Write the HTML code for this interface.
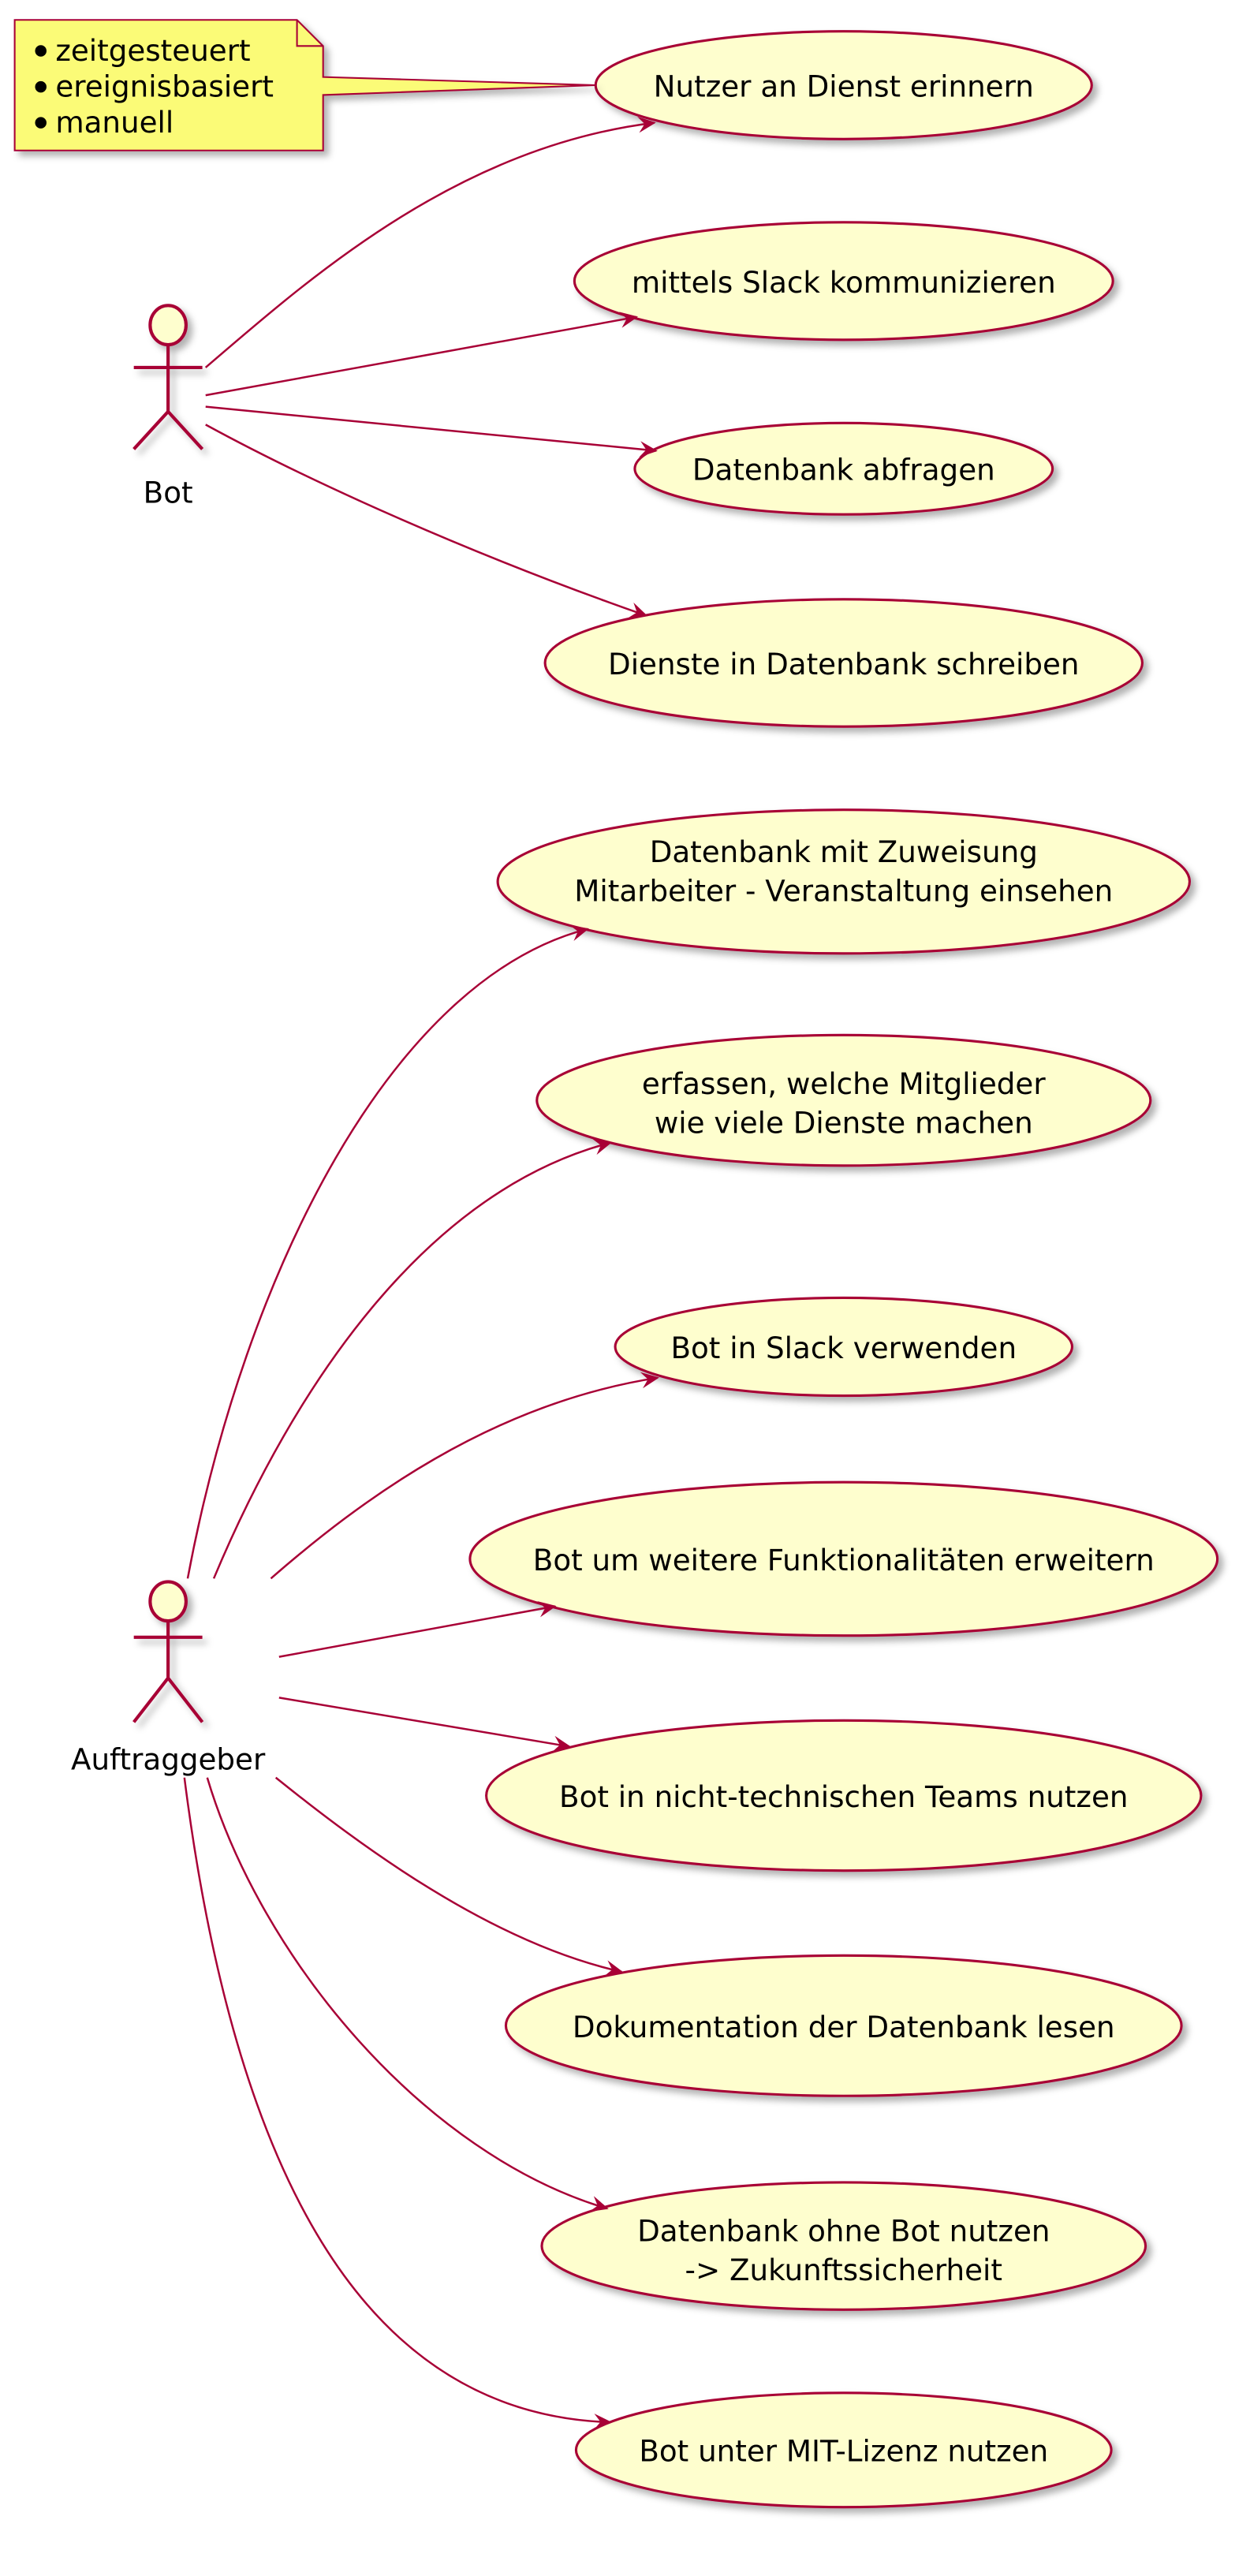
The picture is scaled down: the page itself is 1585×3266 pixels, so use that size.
<!DOCTYPE html>
<html><head><meta charset="utf-8"><style>
html,body{margin:0;padding:0;background:#fff;}
svg{display:block;}
text{font-family:"DejaVu Sans","Liberation Sans",sans-serif;font-size:18px;fill:#000;}
</style></head><body>
<svg width="1585" height="3266" viewBox="0 0 766 1578" xmlns="http://www.w3.org/2000/svg">
<defs>
<filter id="sh" x="-10%" y="-10%" width="130%" height="140%"><feDropShadow dx="3" dy="3" stdDeviation="2" flood-color="#000" flood-opacity="0.3"/></filter>
<marker id="ar" markerWidth="12" markerHeight="10" refX="10" refY="5" orient="auto" markerUnits="userSpaceOnUse"><path d="M0,0 L11,5 L0,10 L4,5 z" fill="#A80036"/></marker>
</defs>
<g fill="#FEFECE" stroke="#A80036" stroke-width="1.5" filter="url(#sh)">
<ellipse cx="517" cy="52" rx="152" ry="33"/>
<ellipse cx="517" cy="172" rx="165" ry="36"/>
<ellipse cx="517" cy="287" rx="128" ry="28"/>
<ellipse cx="517" cy="406" rx="183" ry="39"/>
<ellipse cx="517" cy="540" rx="212" ry="44"/>
<ellipse cx="517" cy="674" rx="188" ry="40"/>
<ellipse cx="517" cy="825" rx="140" ry="30"/>
<ellipse cx="517" cy="955" rx="229" ry="47"/>
<ellipse cx="517" cy="1100" rx="219" ry="46"/>
<ellipse cx="517" cy="1241" rx="207" ry="43"/>
<ellipse cx="517" cy="1376" rx="185" ry="39"/>
<ellipse cx="517" cy="1501" rx="164" ry="35"/>
</g>
<g filter="url(#sh)">
<path d="M9,12 L182,12 L198,28 L198,47 L365,52 L198,58 L198,92 L9,92 Z" fill="#FBFB77" stroke="#A80036" stroke-width="1"/>
<path d="M182,12 L182,28 L198,28" fill="none" stroke="#A80036" stroke-width="1"/>
</g>
<g>
<circle cx="25" cy="31" r="3.5"/><text x="34" y="37">zeitgesteuert</text>
<circle cx="25" cy="53" r="3.5"/><text x="34" y="59">ereignisbasiert</text>
<circle cx="25" cy="75" r="3.5"/><text x="34" y="81">manuell</text>
</g>
<g fill="none" stroke="#A80036" stroke-width="2" filter="url(#sh)">
<ellipse cx="103" cy="199" rx="11" ry="12" fill="#FEFECE"/>
<path d="M103,211 V252 M82,225 H124 M82,275 L103,252 L124,275"/>
<ellipse cx="103" cy="981" rx="11" ry="12" fill="#FEFECE"/>
<path d="M103,993 V1028 M82,1003 H124 M82,1055 L103,1028 L124,1055"/>
</g>
<text x="103" y="308" text-anchor="middle">Bot</text>
<text x="103" y="1084" text-anchor="middle">Auftraggeber</text>
<g fill="none" stroke="#A80036" stroke-width="1.2" marker-end="url(#ar)">
<path d="M126,225 C190,170 280,90 401,75"/>
<path d="M126,242 L390,194"/>
<path d="M126,249 L402,276"/>
<path d="M126,260 C190,295 290,340 396,377"/>
<path d="M115,967 C150,780 240,600 360,569"/>
<path d="M131,967 C180,850 260,730 374,700"/>
<path d="M166,967 C220,920 300,860 403,844"/>
<path d="M171,1015 L340,984"/>
<path d="M171,1040 L349,1070"/>
<path d="M169,1089 C220,1130 300,1190 381,1208"/>
<path d="M127,1089 C160,1200 260,1320 372,1353"/>
<path d="M113,1089 C150,1380 250,1480 374,1484"/>
</g>
<g text-anchor="middle">
<text x="517" y="59">Nutzer an Dienst erinnern</text>
<text x="517" y="179">mittels Slack kommunizieren</text>
<text x="517" y="294">Datenbank abfragen</text>
<text x="517" y="413">Dienste in Datenbank schreiben</text>
<text x="517" y="528">Datenbank mit Zuweisung</text>
<text x="517" y="552">Mitarbeiter - Veranstaltung einsehen</text>
<text x="517" y="670">erfassen, welche Mitglieder</text>
<text x="517" y="694">wie viele Dienste machen</text>
<text x="517" y="832">Bot in Slack verwenden</text>
<text x="517" y="962">Bot um weitere Funktionalitäten erweitern</text>
<text x="517" y="1107">Bot in nicht-technischen Teams nutzen</text>
<text x="517" y="1248">Dokumentation der Datenbank lesen</text>
<text x="517" y="1373">Datenbank ohne Bot nutzen</text>
<text x="517" y="1397">-&gt; Zukunftssicherheit</text>
<text x="517" y="1508">Bot unter MIT-Lizenz nutzen</text>
</g>
</svg>
</body></html>
